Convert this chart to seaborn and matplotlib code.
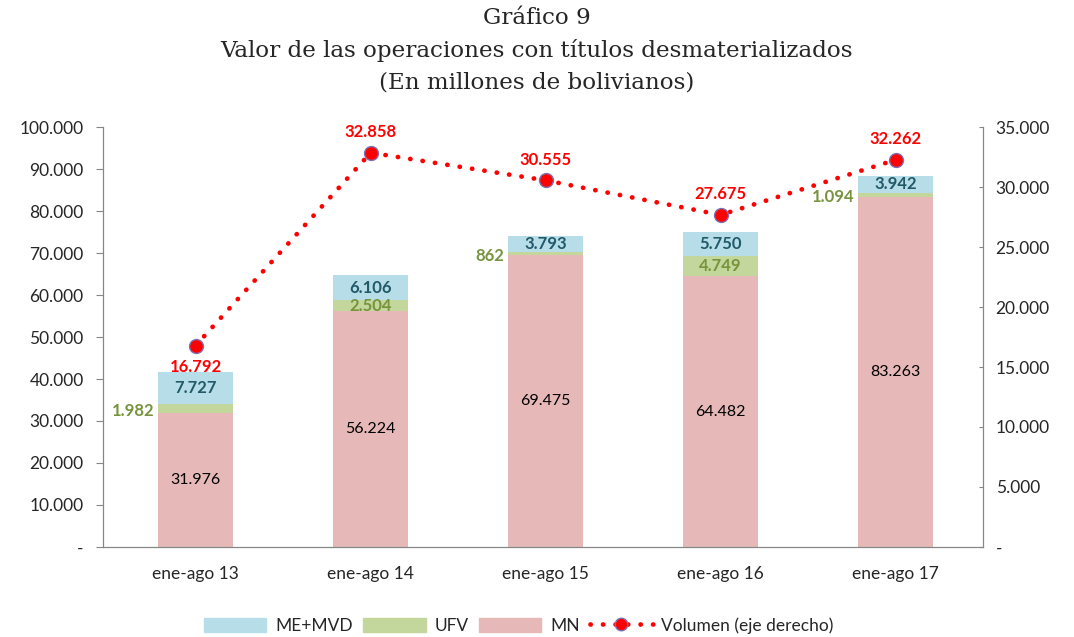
import matplotlib
matplotlib.use("Agg")
import matplotlib.pyplot as plt
import seaborn as sns
import pandas as pd
from matplotlib.ticker import FuncFormatter, FixedLocator
from matplotlib.patches import Patch
from matplotlib.lines import Line2D

# Datos
periodos = ["ene-ago 13", "ene-ago 14", "ene-ago 15", "ene-ago 16", "ene-ago 17"]
mn = [31976, 56224, 69475, 64482, 83263]
ufv = [1982, 2504, 862, 4749, 1094]
me_mvd = [7727, 6106, 3793, 5750, 3942]
volumen = [16792, 32858, 30555, 27675, 32262]

c_mn = "#E6B9B8"
c_ufv = "#C3D69B"
c_me = "#B7DEE8"

df = pd.DataFrame({"periodo": periodos, "MN": mn, "UFV": ufv, "ME": me_mvd, "vol": volumen})
df["base_me"] = df["MN"] + df["UFV"]


def miles(v, pos=None):
    if v == 0:
        return "-"
    return f"{v:,.0f}".replace(",", ".")


sns.set_style("white")
plt.rcParams["font.family"] = ["Lato", "DejaVu Sans"]

fig = plt.figure(figsize=(10.74, 6.37), dpi=100)
ax = fig.add_axes([0.0959, 0.1413, 0.8194, 0.6593])

sns.barplot(data=df, x="periodo", y="MN", color=c_mn, width=0.43, ax=ax,
            saturation=1, linewidth=0)
sns.barplot(data=df, x="periodo", y="UFV", color=c_ufv, width=0.43, ax=ax,
            saturation=1, linewidth=0, bottom=df["MN"])
sns.barplot(data=df, x="periodo", y="ME", color=c_me, width=0.43, ax=ax,
            saturation=1, linewidth=0, bottom=df["base_me"])

ax.set_xlim(-0.53, 4.5)
ax.set_ylim(0, 100000)
ax.set_yticks(range(0, 100001, 10000))
ax.yaxis.set_major_formatter(FuncFormatter(miles))
ax.set_xlabel("")
ax.set_ylabel("")

punteado = (0, (0.05, 2.6))
ax2 = ax.twinx()
sns.lineplot(x=list(range(len(periodos))), y=volumen, ax=ax2, color="#FF0000",
             linestyle=punteado, linewidth=3.4, dash_capstyle="round", marker="o", markersize=10,
             markerfacecolor="#FF0000", markeredgecolor="#7F6FB0", markeredgewidth=1)
ax2.set_ylim(0, 35000)
ax2.set_yticks(range(0, 35001, 5000))
ax2.yaxis.set_major_formatter(FuncFormatter(miles))
ax2.set_xlim(-0.53, 4.5)

for a in (ax, ax2):
    for s in a.spines.values():
        s.set_color("#868686")
    a.spines["top"].set_visible(False)
ax.spines["right"].set_visible(True)
ax.tick_params(axis="y", length=5, color="#868686", labelsize=12.5, direction="out", pad=9)
ax2.tick_params(axis="y", length=3, color="#868686", labelsize=12.5, direction="in", pad=9)
ax.tick_params(axis="x", length=0, labelsize=12.5, pad=14)
ax.xaxis.set_minor_locator(FixedLocator([-0.5, 0.5, 1.5, 2.5, 3.5, 4.5]))
ax.tick_params(axis="x", which="minor", length=5, color="#868686")

# Etiquetas de datos
hw = 0.215
for i in range(len(periodos)):
    ax.text(i, mn[i] / 2, miles(mn[i]), ha="center", va="center", fontsize=11.5, color="black")
    ax.text(i, df["base_me"][i] + me_mvd[i] / 2, miles(me_mvd[i]), ha="center", va="center",
            fontsize=12, color="#215968", fontweight="bold")
    if ufv[i] > 2200:
        ax.text(i, mn[i] + ufv[i] / 2, miles(ufv[i]), ha="center", va="center",
                fontsize=12, color="#77933C", fontweight="bold")
    else:
        ax.text(i - hw - 0.02, mn[i] + ufv[i] / 2 - 500, miles(ufv[i]), ha="right", va="center",
                fontsize=12, color="#77933C", fontweight="bold")
    if i == 0:
        ax2.annotate(miles(volumen[i]), (i, volumen[i]), xytext=(0, -10), textcoords="offset points",
                     ha="center", va="top", fontsize=12, color="#FF0000", fontweight="bold")
    else:
        ax2.annotate(miles(volumen[i]), (i, volumen[i]), xytext=(0, 9), textcoords="offset points",
                     ha="center", va="bottom", fontsize=12, color="#FF0000", fontweight="bold")

titulo = dict(ha="center", va="center", fontsize=16.6, family="DejaVu Serif")
fig.text(0.5, 0.971, "Gráfico 9", **titulo)
fig.text(0.5, 0.921, "Valor de las operaciones con títulos desmaterializados", **titulo)
fig.text(0.5, 0.871, "(En millones de bolivianos)", **titulo)

handles = [Patch(color=c_me, label="ME+MVD"), Patch(color=c_ufv, label="UFV"),
           Patch(color=c_mn, label="MN"),
           Line2D([], [], color="#FF0000", linestyle=punteado, linewidth=3.4, dash_capstyle="round",
                  marker="o", markersize=9, markerfacecolor="#FF0000", markeredgecolor="#7F6FB0",
                  label="Volumen (eje derecho)")]
fig.legend(handles=handles, loc="center", bbox_to_anchor=(0.483, 0.018), ncol=4, frameon=False,
           fontsize=12.5, handlelength=3.6, handleheight=0.9, columnspacing=0.6, handletextpad=0.5)

fig.savefig("out.png", dpi=100)
